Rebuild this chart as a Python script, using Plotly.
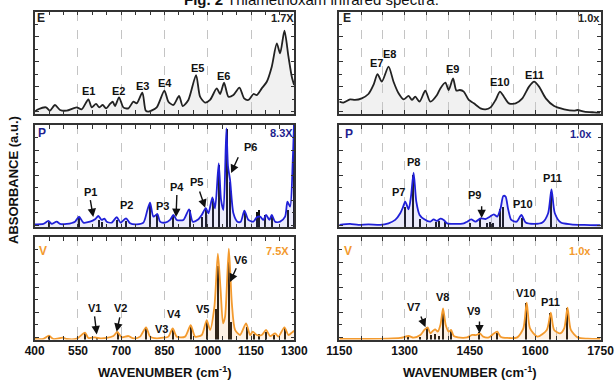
import plotly.graph_objects as go

# ---------------- data ----------------
# E, left (400-1300)
e_left_wn = [400, 412.6, 439.2, 453.1, 470.4, 487.8, 510.9, 545.6, 562.9, 586.1, 597.6, 612.6, 624.2, 635.7,
             647.3, 661.2, 670.4, 678.5, 692.4, 707.4, 724.8, 742.1, 753.7, 773.3, 784.9, 794.1, 823.0, 849.6,
             863.5, 880.8, 900.5, 913.2, 932.8, 959.4, 973.3, 990.6, 1008.0, 1031.1, 1042.7, 1056.5, 1071.6,
             1088.9, 1109.8, 1126.0, 1141.0, 1158.3, 1169.9, 1187.2, 1204.6, 1221.9, 1239.3, 1250.8, 1265.9,
             1279.8, 1291.3, 1299.4]
e_left_ab = [0.023, 0.046, 0.065, 0.033, 0.088, 0.039, 0.033, 0.065, 0.046, 0.143, 0.065, 0.098, 0.065, 0.088,
             0.055, 0.098, 0.120, 0.078, 0.163, 0.065, 0.055, 0.120, 0.104, 0.208, 0.033, 0.023, 0.065, 0.228,
             0.120, 0.088, 0.176, 0.078, 0.137, 0.380, 0.169, 0.111, 0.137, 0.250, 0.195, 0.306, 0.169,
             0.185, 0.257, 0.153, 0.137, 0.195, 0.185, 0.250, 0.315, 0.462, 0.689, 0.592, 0.813,
             0.559, 0.364, 0.283]

# E, right (1150-1750)
e_right_wn = [1150, 1159.3, 1174.7, 1186.2, 1201.6, 1216.9, 1228.5, 1237.7, 1247.7, 1263.1, 1274.6, 1286.1,
              1297.6, 1309.2, 1316.8, 1324.5, 1334.5, 1347.5, 1359.0, 1374.4, 1382.1, 1393.7, 1401.3, 1411.3,
              1419.0, 1426.7, 1435.9, 1447.4, 1459.0, 1474.4, 1485.9, 1497.4, 1509.0, 1519.0, 1528.2, 1539.7,
              1555.1, 1570.5, 1585.8, 1597.4, 1608.9, 1624.3, 1643.5, 1666.6, 1689.6, 1697.3, 1712.7, 1735.7,
              1750]
e_right_ab = [0.120, 0.111, 0.143, 0.137, 0.153, 0.195, 0.283, 0.390, 0.315, 0.462, 0.315, 0.202,
              0.143, 0.176, 0.137, 0.169, 0.120, 0.228, 0.120, 0.185, 0.250, 0.306, 0.234, 0.348,
              0.228, 0.234, 0.218, 0.137, 0.104, 0.055, 0.046, 0.065, 0.137, 0.218, 0.169, 0.104,
              0.104, 0.153, 0.267, 0.315, 0.267, 0.153, 0.078, 0.046, 0.033, 0.039, 0.023, 0.016,
              0.013]

# P, left
p_left_wn = [400, 429.9, 447.3, 458.9, 476.2, 487.8, 510.9, 539.8, 553.7, 568.7, 591.8, 609.2, 620.7, 632.3,
             641.5, 649.6, 667.0, 684.3, 698.2, 716.7, 730.6, 753.7, 776.9, 790.7, 800.0, 811.5, 825.4, 834.6,
             852.0, 869.3, 880.9, 892.4, 915.5, 935.2, 947.9, 967.6, 979.1, 993.0, 1002.2, 1016.1, 1025.3,
             1037.9, 1046.1, 1054.2, 1064.6, 1070.0, 1077.3, 1088.9, 1102.8, 1114.3, 1127.0, 1140.9, 1158.3,
             1169.9, 1181.4, 1193.0, 1202.2, 1213.8, 1221.9, 1233.4, 1250.8, 1268.1, 1276.2, 1285.5, 1294.7,
             1299.4]
p_left_ab = [0.029, 0.033, 0.062, 0.033, 0.055, 0.033, 0.033, 0.055, 0.104, 0.046, 0.055, 0.078, 0.111, 0.072,
             0.085, 0.055, 0.046, 0.098, 0.046, 0.088, 0.039, 0.029, 0.046, 0.169, 0.241, 0.104, 0.130, 0.055,
             0.046, 0.072, 0.121, 0.072, 0.072, 0.176, 0.055, 0.078, 0.121, 0.186, 0.137, 0.293, 0.186,
             0.625, 0.267, 0.169, 0.967, 0.600, 0.463, 0.137, 0.055, 0.055, 0.163, 0.072, 0.055,
             0.098, 0.104, 0.072, 0.121, 0.072, 0.121, 0.055, 0.055, 0.104, 0.251, 0.202, 0.658,
             1.05]
p_left_stick_wn = [447, 554, 621, 632, 684, 717, 800, 822, 880, 936, 979, 992, 1017, 1038, 1064, 1077,
                   1127, 1168, 1176, 1199, 1222, 1276, 1298]
p_left_stick_ab = [0.05, 0.09, 0.07, 0.05, 0.07, 0.06, 0.23, 0.13, 0.11, 0.17, 0.10, 0.18, 0.28, 0.61, 0.96, 0.44,
                   0.15, 0.15, 0.17, 0.12, 0.12, 0.17, 1.0]

# P, right
p_right_wn = [1150, 1174.7, 1193.9, 1216.9, 1243.8, 1263.1, 1278.4, 1290.0, 1296.1, 1301.5, 1309.2, 1314.6,
              1320.7, 1326.9, 1334.5, 1345.3, 1359.1, 1366.8, 1374.5, 1382.1, 1389.8, 1397.6, 1412.9, 1436.0,
              1443.6, 1452.9, 1462.9, 1474.4, 1485.9, 1495.9, 1505.2, 1512.8, 1520.5, 1526.7, 1532.0, 1537.4,
              1545.1, 1557.4, 1568.2, 1578.2, 1597.4, 1616.6, 1629.7, 1637.4, 1645.1, 1658.9, 1682.0, 1712.7,
              1750]
p_right_ab = [0.023, 0.033, 0.023, 0.029, 0.023, 0.039, 0.072, 0.137, 0.195, 0.251, 0.176, 0.300,
              0.534, 0.251, 0.121, 0.078, 0.055, 0.078, 0.062, 0.085, 0.072, 0.039, 0.033, 0.039,
              0.055, 0.078, 0.055, 0.088, 0.081, 0.104, 0.127, 0.104, 0.186, 0.306, 0.300, 0.186,
              0.072, 0.055, 0.121, 0.046, 0.033, 0.046, 0.137, 0.371, 0.137, 0.046, 0.029, 0.023,
              0.020]
p_right_stick_wn = [1301.5, 1320.7, 1336.1, 1373, 1380.6, 1393.7, 1451.4, 1474.4, 1490, 1496, 1505,
                    1520.5, 1526.8, 1570.6, 1637.4]
p_right_stick_ab = [0.195, 0.51, 0.078, 0.055, 0.065, 0.055, 0.04, 0.09, 0.046, 0.055, 0.046,
                    0.18, 0.20, 0.09, 0.349]

# V, left
v_left_wn = [400, 429.9, 449.6, 464.6, 497.0, 510.9, 545.6, 574.5, 586.1, 609.2, 626.5, 649.6, 672.7, 686.6,
             701.6, 724.8, 742.1, 765.2, 786.0, 799.9, 823.0, 846.1, 863.5, 878.5, 892.4, 921.3, 941.0, 956.0,
             979.1, 996.4, 1008.0, 1023.0, 1035.0, 1044.5, 1053.0, 1060.0, 1073.0, 1083.5, 1094.7, 1112.0,
             1132.8, 1146.7, 1155.9, 1169.9, 1187.2, 1202.2, 1216.1, 1233.4, 1245.0, 1265.8, 1279.7, 1291.3,
             1299.4]
v_left_ab = [0.005, 0.005, 0.037, 0.005, 0.018, 0.005, 0.008, 0.067, 0.015, 0.021, 0.011, 0.015, 0.034, 0.073,
             0.021, 0.034, 0.011, 0.028, 0.119, 0.028, 0.011, 0.018, 0.028, 0.109, 0.028, 0.028, 0.141, 0.028,
             0.044, 0.190, 0.093, 0.320, 0.837, 0.483, 0.158, 0.223, 0.886, 0.353, 0.093, 0.044,
             0.158, 0.044, 0.076, 0.044, 0.044, 0.093, 0.034, 0.060, 0.028, 0.119, 0.044, 0.067,
             0.086]
v_left_stick_wn = [450, 575, 615, 687, 786, 880, 941, 997, 1027, 1036, 1073, 1079, 1135, 1158, 1176, 1202,
                   1230, 1265]
v_left_stick_ab = [0.03, 0.06, 0.02, 0.06, 0.11, 0.10, 0.13, 0.18, 0.30, 0.72, 0.80, 0.17, 0.12, 0.05, 0.05,
                   0.075, 0.04, 0.11]

# V, right
v_right_wn = [1150, 1213.1, 1259.2, 1290.0, 1309.2, 1320.7, 1336.1, 1345.3, 1353.0, 1359.1, 1365.3, 1370.6,
              1376.0, 1382.2, 1388.3, 1394.5, 1401.4, 1406.8, 1412.9, 1428.3, 1443.6, 1455.2, 1465.2, 1472.8,
              1480.5, 1493.6, 1503.6, 1512.8, 1520.5, 1535.9, 1558.9, 1572.8, 1580.4, 1588.1, 1605.0, 1626.6,
              1635.8, 1643.5, 1657.3, 1666.6, 1674.2, 1681.9, 1697.3, 1720.3, 1750]
v_right_ab = [0.005, 0.005, 0.008, 0.015, 0.034, 0.018, 0.044, 0.093, 0.119, 0.060, 0.086, 0.099,
              0.076, 0.141, 0.304, 0.141, 0.076, 0.093, 0.034, 0.018, 0.021, 0.044, 0.044, 0.060,
              0.028, 0.021, 0.054, 0.076, 0.028, 0.015, 0.021, 0.109, 0.359, 0.109, 0.028, 0.093,
              0.262, 0.093, 0.060, 0.109, 0.311, 0.093, 0.021, 0.008, 0.005]
v_right_stick_wn = [1309.2, 1336.1, 1353.0, 1360.7, 1370.6, 1380.6, 1388.3, 1406.8, 1472.8, 1512.8, 1580.4,
                    1635.8, 1674.2]
v_right_stick_ab = [0.037, 0.028, 0.119, 0.044, 0.054, 0.037, 0.288, 0.086, 0.076, 0.060, 0.353, 0.255, 0.304]

left_tickvals = [400, 550, 700, 850, 1000, 1150, 1300]
right_tickvals = [1150, 1300, 1450, 1600, 1750]

# peak labels: (text, wn, absorbance)
e_left_labels = [("E1", 585, 0.227), ("E2", 692, 0.227), ("E3", 772, 0.273), ("E4", 852, 0.305),
                 ("E5", 963, 0.449), ("E6", 1053, 0.371)]
e_right_labels = [("E7", 1235, 0.495), ("E8", 1265, 0.585), ("E9", 1411, 0.436), ("E10", 1518, 0.315),
                  ("E11", 1599, 0.380)]
p_left_labels = [("P1", 594, 0.348), ("P2", 719, 0.218), ("P3", 844, 0.208), ("P4", 892, 0.397),
                 ("P5", 962, 0.446), ("P6", 1147, 0.788)]
p_right_labels = [("P7", 1286, 0.348), ("P8", 1321, 0.641), ("P9", 1461, 0.316), ("P10", 1571, 0.225),
                  ("P11", 1640, 0.479)]
v_left_labels = [("V1", 606, 0.304), ("V2", 699, 0.304), ("V3", 840, 0.10), ("V4", 883, 0.249),
                 ("V5", 983, 0.295), ("V6", 1112, 0.776)]
v_right_labels = [("V7", 1321, 0.32), ("V8", 1388, 0.412), ("V9", 1459, 0.281), ("V10", 1578, 0.457),
                  ("P11", 1636, 0.363)]
# arrows: (tail wn, tail ab, tip wn, tip ab)
p_left_arrows = [(592, 0.28, 603, 0.10), (893, 0.33, 890, 0.10), (970, 0.365, 991, 0.19), (1108, 0.70, 1081, 0.53)]
p_right_arrows = [(1477, 0.22, 1477, 0.09)]
v_left_arrows = [(607, 0.24, 615, 0.05), (696, 0.23, 684, 0.075), (1101, 0.71, 1077, 0.56)]
v_right_arrows = [(1336, 0.24, 1348, 0.12), (1472, 0.19, 1472, 0.06)]

# ---------------- styling ----------------
BLACK = "#222222"
BLUE = "#2020d8"
NAVY = "#1f1f8f"
ORANGE = "#f39a2e"
FONT = "Liberation Sans"

W, H = 616, 385
xdom_left = [34.7 / W, 294.3 / W]
xdom_right = [339.3 / W, 600.5 / W]
ydom = {1: [1 - 114 / H, 1 - 11.5 / H], 2: [1 - 227.3 / H, 1 - 125 / H], 3: [1 - 339.5 / H, 1 - 237 / H]}

fig = go.Figure()

panels = [
    (1, 1, "L", e_left_wn, e_left_ab, BLACK, "rgba(200,200,200,0.25)", None, None),
    (2, 1, "R", e_right_wn, e_right_ab, BLACK, "rgba(200,200,200,0.25)", None, None),
    (3, 2, "L", p_left_wn, p_left_ab, BLUE, "rgba(120,120,230,0.15)", p_left_stick_wn, p_left_stick_ab),
    (4, 2, "R", p_right_wn, p_right_ab, BLUE, "rgba(120,120,230,0.15)", p_right_stick_wn, p_right_stick_ab),
    (5, 3, "L", v_left_wn, v_left_ab, ORANGE, "rgba(245,160,80,0.14)", v_left_stick_wn, v_left_stick_ab),
    (6, 3, "R", v_right_wn, v_right_ab, ORANGE, "rgba(245,160,80,0.14)", v_right_stick_wn, v_right_stick_ab),
]

layout = {}
for idx, row, side, wn, ab, col, fillc, swn, sab in panels:
    xa = "x" if idx == 1 else f"x{idx}"
    ya = "y" if idx == 1 else f"y{idx}"
    fig.add_trace(go.Scatter(x=wn, y=ab, mode="lines", line=dict(color=col, width=1.8, shape="spline", smoothing=0.7),
                             fill="tozeroy", fillcolor=fillc, xaxis=xa, yaxis=ya, showlegend=False, hoverinfo="skip"))
    if swn is not None:
        fig.add_trace(go.Bar(x=swn, y=sab, width=3.5 if side == "L" else 2.6, marker=dict(color="#111111", line=dict(width=0)),
                             xaxis=xa, yaxis=ya, showlegend=False, hoverinfo="skip"))
    left = side == "L"
    tv = left_tickvals if left else right_tickvals
    xkey = "xaxis" if idx == 1 else f"xaxis{idx}"
    ykey = "yaxis" if idx == 1 else f"yaxis{idx}"
    layout[xkey] = dict(
        domain=xdom_left if left else xdom_right,
        anchor=ya, automargin=False,
        range=[400, 1300] if left else [1150, 1750],
        tickmode="array", tickvals=tv,
        showticklabels=(row == 3),
        ticks="inside", ticklen=4, tickwidth=1.2, tickcolor="#333",
        minor=dict(dtick=50, tick0=400 if left else 1150, ticks="inside", ticklen=4, tickwidth=1.2, tickcolor="#333",
                   showgrid=not left, gridcolor="#c4c4c4", griddash="dash", gridwidth=1),
        showgrid=True, gridcolor="#c4c4c4", griddash="dash", gridwidth=1,
        showline=True, linecolor="#333", linewidth=1.6, mirror="ticks",
        zeroline=False,
        ticklabelstandoff=-1,
        tickfont=dict(family=FONT, size=12, color="#111", weight="bold"),
    )
    layout[ykey] = dict(
        domain=ydom[row], anchor=xa, range=[0, 1], automargin=False,
        tickmode="linear", tick0=0.02, dtick=0.245, showticklabels=False,
        ticks="inside", ticklen=4, tickwidth=1.2, tickcolor="#333",
        minor=dict(dtick=0.1225, tick0=0.02, ticks="inside", ticklen=3, tickwidth=1, tickcolor="#333"),
        showgrid=False, zeroline=False,
        showline=True, linecolor="#333", linewidth=1.6, mirror="ticks",
    )

fig.update_layout(**layout)

ann = []


def add_labels(labels, idx, color="#111"):
    xa = "x" if idx == 1 else f"x{idx}"
    ya = "y" if idx == 1 else f"y{idx}"
    for t, xw, yv in labels:
        ann.append(dict(text=f"<b>{t}</b>", x=xw, y=yv, xref=xa, yref=ya, showarrow=False,
                        xanchor="center", yanchor="middle",
                        font=dict(family=FONT, size=11, color=color)))


def add_arrows(arrows, idx):
    xa = "x" if idx == 1 else f"x{idx}"
    ya = "y" if idx == 1 else f"y{idx}"
    for tx, ty, hx, hy in arrows:
        ann.append(dict(text="", x=hx, y=hy, ax=tx, ay=ty, xref=xa, yref=ya, axref=xa, ayref=ya,
                        showarrow=True, arrowhead=2, arrowsize=1.2, arrowwidth=1.4, arrowcolor="#111", standoff=0))


add_labels(e_left_labels, 1)
add_labels(e_right_labels, 2)
add_labels(p_left_labels, 3)
add_labels(p_right_labels, 4)
add_labels(v_left_labels, 5)
add_labels(v_right_labels, 6)
add_arrows(p_left_arrows, 3)
add_arrows(p_right_arrows, 4)
add_arrows(v_left_arrows, 5)
add_arrows(v_right_arrows, 6)


def px(xp):
    return xp / W


def py(yp):
    return 1 - yp / H


tags = [("E", 41, 18, BLACK), ("1.7X", 282, 18, BLACK), ("E", 347, 18, BLACK), ("1.0x", 589, 18, BLACK),
        ("P", 42, 133, NAVY), ("8.3X", 281, 133, NAVY), ("P", 349, 134, NAVY), ("1.0x", 581, 134, NAVY),
        ("V", 43, 251, ORANGE), ("7.5X", 277, 251, ORANGE), ("V", 348, 251, ORANGE), ("1.0x", 580, 251, ORANGE)]
for t, xp, yp, c in tags:
    ann.append(dict(text=f"<b>{t}</b>", x=px(xp), y=py(yp), xref="paper", yref="paper", showarrow=False,
                    xanchor="center", yanchor="middle",
                    font=dict(family=FONT, size=12 if len(t) == 1 else 11, color=c)))

for xc in [(34.7 + 294.3) / 2, (339.3 + 600.5) / 2]:
    ann.append(dict(text="<b>WAVENUMBER (cm<sup>-1</sup>)</b>", x=px(xc), y=py(372), xref="paper", yref="paper",
                    xanchor="center", yanchor="middle",
                    showarrow=False, font=dict(family=FONT, size=13, color="#111")))
ann.append(dict(text="<b>ABSORBANCE (a.u.)</b>", x=px(14), y=py(180), xref="paper", yref="paper", textangle=-90,
                xanchor="center", yanchor="middle",
                showarrow=False, font=dict(family=FONT, size=13, color="#111")))
ann.append(dict(text="<b>Fig. 2</b> Thiamethoxam infrared spectra.", x=px(312), y=1, yshift=1, xref="paper",
                yref="paper", xanchor="center", yanchor="middle", showarrow=False,
                font=dict(family=FONT, size=15, color="#111")))

fig.update_layout(
    annotations=ann,
    width=W, height=H,
    margin=dict(l=0, r=0, t=0, b=0, autoexpand=False),
    plot_bgcolor="white", paper_bgcolor="white",
    bargap=0, barmode="overlay",
    font=dict(family=FONT),
)

fig.write_html("out.html", config={"displayModeBar": False},
               post_script="document.body.style.margin='0px';")
